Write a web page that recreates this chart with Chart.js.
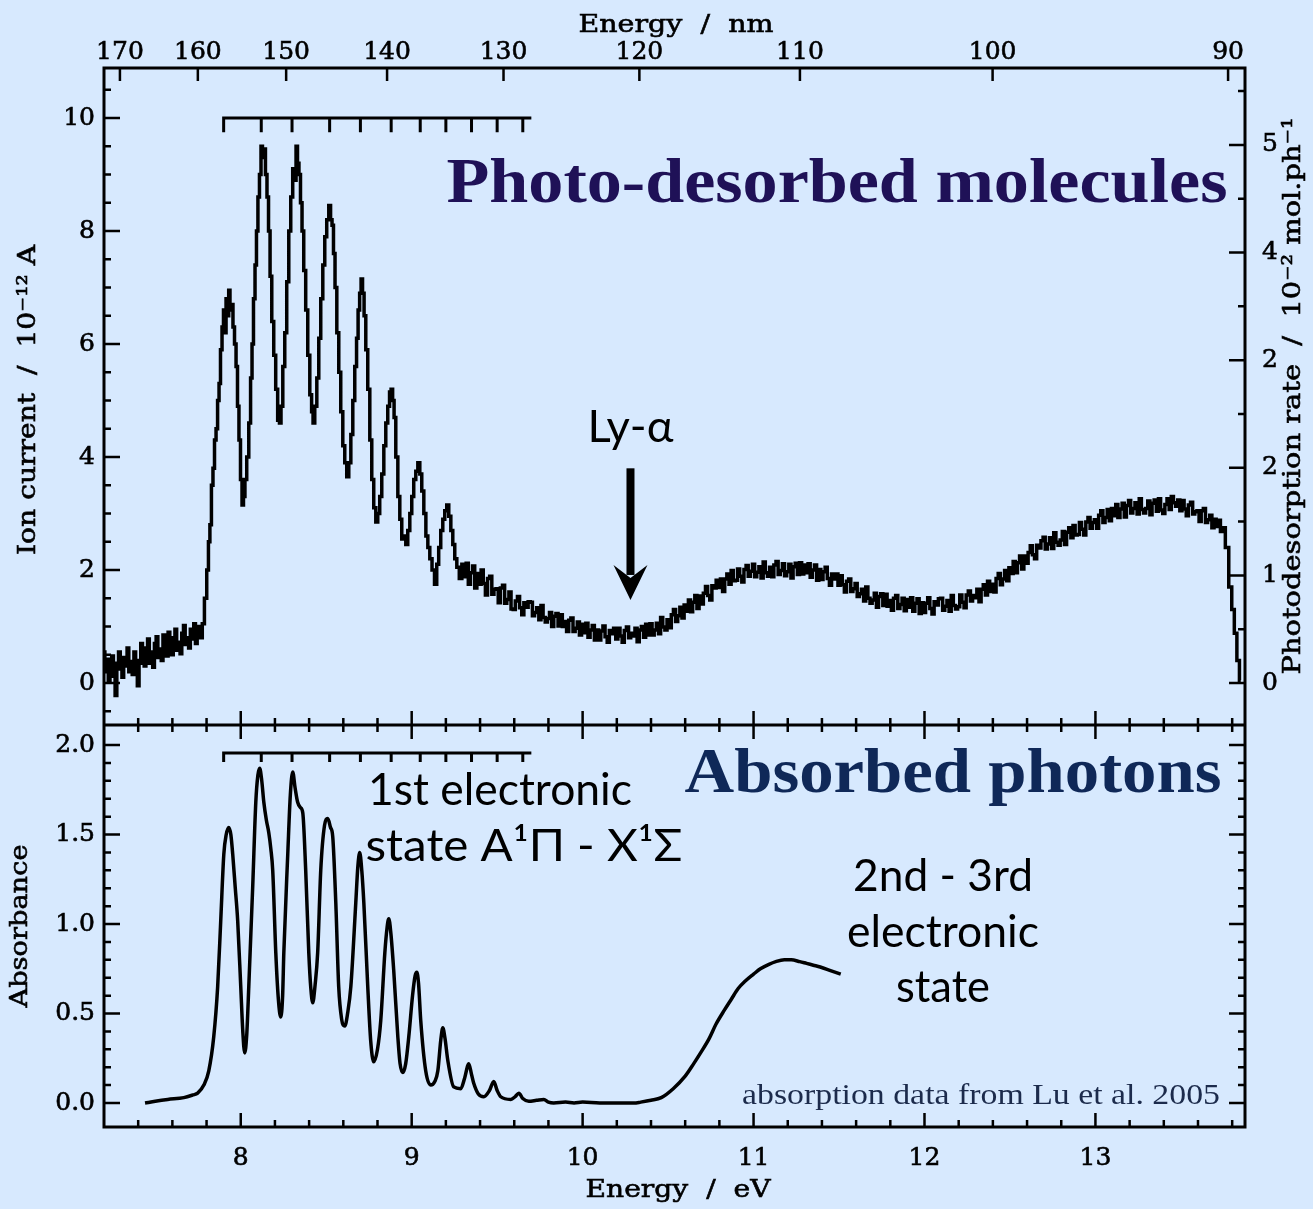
<!DOCTYPE html>
<html>
<head>
<meta charset="utf-8">
<title>CO photodesorption and absorption spectra</title>
<script src="https://cdn.jsdelivr.net/npm/chart.js@4.4.1/dist/chart.umd.min.js"></script>
<style>
  html, body { margin: 0; padding: 0; background: #d7e9fe; }
  #chart { display: block; }
</style>
</head>
<body>
<canvas id="chart" width="1313" height="1209"></canvas>
<script>
// ---- Photo-desorbed molecules: [photon energy (eV), ion current (1e-12 A)] ----
const ionTrace = [
  // below the A-X onset
  [7.20,0.55],[7.21,0.20],[7.22,0.42],[7.23,0.05],[7.24,0.30],[7.25,0.48],[7.26,0.12],[7.27,-0.22],
  [7.28,0.35],[7.29,0.55],[7.30,0.25],[7.31,0.10],[7.32,0.45],[7.33,0.30],[7.34,0.62],[7.35,0.20],
  [7.36,0.38],[7.37,0.15],[7.38,0.55],[7.39,0.40],[7.40,-0.05],[7.41,0.35],[7.42,0.70],[7.43,0.45],
  [7.44,0.30],[7.45,0.62],[7.46,0.78],[7.47,0.35],[7.48,0.55],[7.49,0.28],[7.50,0.70],[7.51,0.82],
  [7.52,0.45],[7.53,0.60],[7.54,0.40],[7.55,0.85],[7.56,0.55],[7.57,0.48],[7.58,0.90],[7.59,0.62],
  [7.60,0.50],[7.61,0.80],[7.62,0.95],[7.63,0.58],[7.64,0.72],[7.65,0.52],[7.66,0.88],[7.67,1.02],
  [7.68,0.68],[7.69,0.80],[7.70,0.62],[7.71,0.95],[7.72,0.78],[7.73,1.05],[7.74,0.70],[7.75,0.88],
  [7.76,1.00],[7.77,0.80],
  // A-X vibrational bands
  [7.780,1.05],[7.795,1.5],[7.807,2.0],[7.815,2.5],[7.824,2.8],[7.833,3.5],[7.842,3.8],[7.851,4.3],
  [7.860,4.5],[7.869,5.0],[7.877,5.3],[7.886,5.9],[7.895,6.3],[7.903,6.6],[7.910,6.2],[7.918,6.8],
  [7.926,6.5],[7.933,6.95],[7.941,6.6],[7.950,6.7],[7.959,6.3],[7.968,6.0],[7.977,5.6],[7.985,4.9],
  [7.994,4.3],[8.003,3.6],[8.012,3.15],[8.020,3.3],[8.029,3.6],[8.041,4.0],[8.053,4.6],[8.062,5.4],
  [8.070,6.0],[8.079,6.8],[8.088,7.4],[8.096,8.0],[8.105,8.6],[8.114,9.0],[8.123,9.5],[8.131,9.3],
  [8.140,9.45],[8.149,9.0],[8.158,8.6],[8.167,8.0],[8.176,7.2],[8.187,6.4],[8.199,5.8],[8.210,5.2],
  [8.222,4.65],[8.231,4.6],[8.240,4.9],[8.252,5.6],[8.263,6.2],[8.275,7.1],[8.287,8.0],[8.298,8.6],
  [8.310,9.1],[8.319,8.9],[8.328,9.5],[8.336,9.2],[8.345,9.0],[8.354,8.5],[8.363,8.0],[8.374,7.3],
  [8.386,6.6],[8.398,5.8],[8.410,5.1],[8.419,4.8],[8.427,4.6],[8.439,4.9],[8.451,5.4],[8.462,6.1],
  [8.474,6.8],[8.486,7.4],[8.497,7.9],[8.509,8.2],[8.521,8.45],[8.530,8.2],[8.538,8.1],[8.547,7.6],
  [8.556,7.0],[8.568,6.2],[8.579,5.5],[8.591,4.8],[8.603,4.2],[8.614,3.9],[8.626,3.65],[8.638,3.9],
  [8.650,4.4],[8.661,5.0],[8.673,5.6],[8.682,6.1],[8.691,6.6],[8.700,6.9],[8.708,7.15],[8.717,6.9],
  [8.726,6.5],[8.737,5.9],[8.749,5.2],[8.761,4.3],[8.772,3.6],[8.784,3.1],[8.796,2.85],[8.807,3.0],
  [8.819,3.3],[8.831,3.7],[8.843,4.2],[8.854,4.6],[8.866,4.9],[8.875,5.15],[8.884,5.2],[8.893,5.0],
  [8.901,4.7],[8.913,4.0],[8.925,3.3],[8.936,2.9],[8.948,2.55],[8.960,2.6],[8.971,2.45],[8.983,2.7],
  [8.995,3.0],[9.006,3.3],[9.018,3.6],[9.030,3.75],[9.042,3.9],[9.053,3.7],[9.065,3.4],[9.077,3.0],
  [9.089,2.6],[9.100,2.4],[9.112,2.2],[9.126,2.0],[9.141,1.75],[9.152,2.1],[9.164,2.4],[9.176,2.7],
  [9.188,2.9],[9.199,3.05],[9.211,3.15],[9.223,2.95],[9.235,2.7],[9.246,2.45],[9.258,2.2],[9.270,2.05],
  [9.287,1.85],
  // Ly-alpha region and the higher electronic states
  [9.3000,2.10],[9.3125,1.88],[9.3250,2.12],[9.3375,1.75],[9.3500,1.95],[9.3625,2.07],[9.3750,1.68],[9.3875,1.94],
  [9.4000,1.75],[9.4125,2.00],[9.4250,1.76],[9.4375,1.56],[9.4500,1.85],[9.4625,1.89],[9.4750,1.57],[9.4875,1.66],
  [9.5000,1.67],[9.5125,1.42],[9.5250,1.68],[9.5375,1.73],[9.5500,1.41],[9.5625,1.48],[9.5750,1.61],[9.5875,1.31],
  [9.6000,1.30],[9.6125,1.45],[9.6250,1.53],[9.6375,1.33],[9.6500,1.21],[9.6625,1.42],[9.6750,1.34],[9.6875,1.44],
  [9.7000,1.43],[9.7125,1.19],[9.7250,1.25],[9.7375,1.33],[9.7500,1.12],[9.7625,1.37],[9.7750,1.16],[9.7875,1.08],
  [9.8000,1.14],[9.8125,1.25],[9.8250,1.00],[9.8375,1.18],[9.8500,1.23],[9.8625,1.01],[9.8750,1.21],[9.8875,1.00],
  [9.9000,1.09],[9.9125,0.91],[9.9250,1.11],[9.9375,1.15],[9.9500,0.91],[9.9625,0.97],[9.9750,1.08],[9.9875,0.85],
  [10.0000,1.04],[10.0125,0.89],[10.0250,1.06],[10.0375,0.81],[10.0500,0.94],[10.0625,1.02],[10.0750,0.76],[10.0875,0.94],
  [10.1000,0.76],[10.1125,0.92],[10.1250,1.01],[10.1375,0.82],[10.1500,0.72],[10.1625,0.93],[10.1750,0.87],[10.1875,0.97],
  [10.2000,0.78],[10.2125,0.97],[10.2250,0.83],[10.2375,0.72],[10.2500,0.93],[10.2625,0.99],[10.2750,0.80],[10.2875,0.88],
  [10.3000,0.83],[10.3125,0.97],[10.3250,0.73],[10.3375,0.94],[10.3500,1.00],[10.3625,0.81],[10.3750,1.04],[10.3875,0.85],
  [10.4000,1.05],[10.4125,0.85],[10.4250,0.94],[10.4375,1.06],[10.4500,0.87],[10.4625,1.16],[10.4750,0.99],[10.4875,0.94],
  [10.5000,1.12],[10.5125,0.98],[10.5250,1.21],[10.5375,1.30],[10.5500,1.09],[10.5625,1.19],[10.5750,1.34],[10.5875,1.15],
  [10.6000,1.38],[10.6125,1.27],[10.6250,1.47],[10.6375,1.26],[10.6500,1.43],[10.6625,1.55],[10.6750,1.32],[10.6875,1.54],
  [10.7000,1.40],[10.7125,1.59],[10.7250,1.71],[10.7375,1.55],[10.7500,1.47],[10.7625,1.72],[10.7750,1.68],[10.7875,1.82],
  [10.8000,1.69],[10.8125,1.84],[10.8250,1.62],[10.8375,1.84],[10.8500,1.93],[10.8625,1.75],[10.8750,1.99],[10.8875,1.81],
  [10.9000,1.82],[10.9125,2.02],[10.9250,1.89],[10.9375,1.79],[10.9500,2.01],[10.9625,2.08],[10.9750,1.89],[10.9875,1.98],
  [11.0000,2.10],[11.0125,1.88],[11.0250,1.96],[11.0375,2.06],[11.0500,1.86],[11.0625,2.14],[11.0750,1.95],[11.0875,1.89],
  [11.1000,2.05],[11.1125,1.88],[11.1250,2.09],[11.1375,2.15],[11.1500,1.92],[11.1625,1.99],[11.1750,2.11],[11.1875,1.90],
  [11.2000,1.97],[11.2125,2.10],[11.2250,1.86],[11.2375,2.06],[11.2500,2.12],[11.2625,1.92],[11.2750,2.13],[11.2875,1.93],
  [11.3000,2.09],[11.3125,1.95],[11.3250,2.11],[11.3375,1.87],[11.3500,2.00],[11.3625,2.09],[11.3750,1.82],[11.3875,2.01],
  [11.4000,1.83],[11.4125,1.97],[11.4250,2.05],[11.4375,1.85],[11.4500,1.73],[11.4625,1.93],[11.4750,1.84],[11.4875,1.93],
  [11.5000,1.73],[11.5125,1.90],[11.5250,1.74],[11.5375,1.61],[11.5500,1.80],[11.5625,1.84],[11.5750,1.62],[11.5875,1.67],
  [11.6000,1.76],[11.6125,1.53],[11.6250,1.58],[11.6375,1.66],[11.6500,1.45],[11.6625,1.70],[11.6750,1.50],[11.6875,1.41],
  [11.7000,1.47],[11.7125,1.59],[11.7250,1.34],[11.7375,1.53],[11.7500,1.58],[11.7625,1.37],[11.7750,1.57],[11.7875,1.36],
  [11.8000,1.46],[11.8125,1.29],[11.8250,1.50],[11.8375,1.55],[11.8500,1.32],[11.8625,1.39],[11.8750,1.50],[11.8875,1.28],
  [11.9000,1.48],[11.9125,1.34],[11.9250,1.51],[11.9375,1.27],[11.9500,1.41],[11.9625,1.49],[11.9750,1.23],[11.9875,1.42],
  [12.0000,1.25],[12.0125,1.41],[12.0250,1.51],[12.0375,1.32],[12.0500,1.22],[12.0625,1.44],[12.0750,1.38],[12.0875,1.49],
  [12.1000,1.50],[12.1125,1.29],[12.1250,1.36],[12.1375,1.46],[12.1500,1.27],[12.1625,1.55],[12.1750,1.37],[12.1875,1.31],
  [12.2000,1.35],[12.2125,1.56],[12.2250,1.43],[12.2375,1.33],[12.2500,1.56],[12.2625,1.63],[12.2750,1.45],[12.2875,1.55],
  [12.3000,1.51],[12.3125,1.66],[12.3250,1.44],[12.3375,1.66],[12.3500,1.74],[12.3625,1.56],[12.3750,1.80],[12.3875,1.62],
  [12.4000,1.75],[12.4125,1.61],[12.4250,1.85],[12.4375,1.94],[12.4500,1.74],[12.4625,1.84],[12.4750,1.99],[12.4875,1.81],
  [12.5000,2.04],[12.5125,1.94],[12.5250,2.15],[12.5375,1.95],[12.5500,2.13],[12.5625,2.25],[12.5750,2.02],[12.5875,2.25],
  [12.6000,2.12],[12.6125,2.31],[12.6250,2.43],[12.6375,2.27],[12.6500,2.20],[12.6625,2.44],[12.6750,2.39],[12.6875,2.52],
  [12.7000,2.58],[12.7125,2.37],[12.7250,2.46],[12.7375,2.57],[12.7500,2.38],[12.7625,2.66],[12.7750,2.49],[12.7875,2.44],
  [12.8000,2.53],[12.8125,2.68],[12.8250,2.45],[12.8375,2.67],[12.8500,2.75],[12.8625,2.57],[12.8750,2.79],[12.8875,2.62],
  [12.9000,2.63],[12.9125,2.84],[12.9250,2.72],[12.9375,2.62],[12.9500,2.85],[12.9625,2.93],[12.9750,2.74],[12.9875,2.84],
  [13.0000,2.89],[13.0125,2.74],[13.0250,2.97],[13.0375,3.05],[13.0500,2.84],[13.0625,2.93],[13.0750,3.07],[13.0875,2.87],
  [13.1000,3.09],[13.1125,2.96],[13.1250,3.16],[13.1375,2.93],[13.1500,3.08],[13.1625,3.18],[13.1750,2.94],[13.1875,3.14],
  [13.2000,3.23],[13.2125,3.01],[13.2250,3.09],[13.2375,3.19],[13.2500,2.99],[13.2625,3.26],[13.2750,3.07],[13.2875,3.01],
  [13.3000,3.09],[13.3125,3.22],[13.3250,2.98],[13.3375,3.18],[13.3500,3.24],[13.3625,3.04],[13.3750,3.26],[13.3875,3.06],
  [13.4000,3.00],[13.4125,3.16],[13.4250,3.26],[13.4375,3.07],[13.4500,3.30],[13.4625,3.19],[13.4750,3.13],[13.4875,3.24],
  [13.5000,3.05],[13.5125,3.23],[13.5250,3.08],[13.5375,2.96],[13.5500,3.15],[13.5625,3.20],[13.5750,2.99],[13.5875,3.03],
  [13.6000,3.05],[13.6125,2.86],[13.6250,3.05],[13.6375,3.09],[13.6500,2.84],[13.6625,2.89],[13.6750,2.97],[13.6875,2.75],
  [13.7000,2.90],[13.7125,2.77],[13.7250,2.88],[13.7375,2.68],[13.7500,2.75],
  [13.770,2.40],[13.790,1.70],[13.805,1.30],[13.820,0.88],[13.835,0.40],[13.850,0.05]
];

// ---- Absorbed photons: [photon energy (eV), absorbance] ----
const absorbanceTrace = [
  [7.44,0.0],[7.50,0.01],[7.573,0.02],[7.667,0.03],[7.72,0.045],[7.748,0.055],[7.784,0.10],[7.813,0.18],
  [7.842,0.37],[7.865,0.65],[7.883,1.02],[7.901,1.39],[7.915,1.50],[7.930,1.54],[7.942,1.50],[7.953,1.39],
  [7.968,1.20],[7.982,1.02],[8.000,0.65],[8.012,0.40],[8.023,0.28],[8.035,0.38],[8.047,0.65],[8.070,1.21],
  [8.088,1.68],[8.100,1.83],[8.111,1.87],[8.123,1.80],[8.135,1.68],[8.150,1.58],[8.164,1.51],[8.176,1.42],
  [8.187,1.30],[8.205,0.84],[8.220,0.58],[8.234,0.48],[8.245,0.60],[8.252,0.84],[8.275,1.39],[8.290,1.72],
  [8.304,1.85],[8.318,1.76],[8.333,1.68],[8.350,1.65],[8.363,1.62],[8.380,1.30],[8.398,0.84],[8.410,0.64],
  [8.421,0.56],[8.435,0.66],[8.450,0.84],[8.468,1.30],[8.490,1.55],[8.509,1.59],[8.525,1.54],[8.538,1.49],
  [8.556,1.12],[8.573,0.65],[8.590,0.47],[8.609,0.43],[8.625,0.50],[8.644,0.65],[8.673,1.12],[8.685,1.32],
  [8.696,1.40],[8.708,1.30],[8.720,1.12],[8.743,0.65],[8.760,0.35],[8.778,0.23],[8.800,0.30],[8.819,0.46],
  [8.843,0.84],[8.856,0.98],[8.866,1.03],[8.878,0.95],[8.895,0.74],[8.919,0.37],[8.932,0.22],[8.948,0.17],
  [8.965,0.22],[8.983,0.37],[9.005,0.60],[9.020,0.71],[9.030,0.73],[9.040,0.67],[9.053,0.46],[9.082,0.18],
  [9.112,0.10],[9.135,0.12],[9.153,0.18],[9.170,0.35],[9.182,0.42],[9.195,0.36],[9.211,0.24],[9.246,0.09],
  [9.287,0.08],[9.310,0.14],[9.334,0.22],[9.350,0.16],[9.363,0.11],[9.390,0.05],[9.422,0.035],[9.455,0.07],
  [9.480,0.12],[9.500,0.07],[9.521,0.035],[9.580,0.02],[9.605,0.035],[9.627,0.055],[9.650,0.025],[9.685,0.01],
  [9.730,0.015],[9.773,0.02],[9.800,0.005],[9.831,0.0],[9.900,0.005],[9.950,0.0],[10.000,0.005],[10.100,0.0],
  [10.200,0.0],[10.300,0.0],[10.340,0.005],[10.400,0.015],[10.460,0.03],[10.530,0.08],[10.600,0.15],[10.650,0.22],
  [10.690,0.28],[10.740,0.36],[10.780,0.44],[10.830,0.52],[10.870,0.58],[10.910,0.64],[10.950,0.68],[11.000,0.72],
  [11.040,0.75],[11.090,0.775],[11.130,0.79],[11.180,0.80],[11.220,0.80],[11.270,0.79],[11.310,0.78],[11.350,0.77],
  [11.390,0.76],[11.450,0.74],[11.510,0.72]
];

// ---- axes ----
const energyRange = [7.2, 13.875];          // eV, shared horizontal axis
const ionPanelRange = [-0.743, 10.885];     // ion current shown in the upper panel
const absPanelRange = [-0.134, 2.112];      // absorbance shown in the lower panel
const upperPanelShare = 657 / 1059;         // fraction of the plot height used by the upper panel
const ratePerIon = 0.525;                   // photodesorption rate (1e-2 mol/ph) per 1e-12 A

const evTicks = [8, 9, 10, 11, 12, 13];
const nmTicks = [170, 160, 150, 140, 130, 120, 110, 100, 90];
const ionTicks = [0, 2, 4, 6, 8, 10];
const absTicks = [0, 0.5, 1.0, 1.5, 2.0];
const rateTicks = [0, 1, 2, 3, 4, 5];
const rateTickLabels = ['0', '1', '2', '2', '4', '5'];

// ---- vibrational progression of the A-X band, Lyman-alpha line ----
const progressionEv = [7.90, 8.12, 8.30, 8.52, 8.70, 8.88, 9.05, 9.20, 9.35, 9.50, 9.65];
const progressionEndEv = 9.70;
const lymanAlphaEv = 10.28;

const HC_EV_NM = 1239.84;
const BG = '#d7e9fe';

// each vertical scale spans the whole plot height; its range is stretched so that
// its own panel sits in the right band of the plot
const ionSpan = (ionPanelRange[1] - ionPanelRange[0]) / upperPanelShare;
const absSpan = (absPanelRange[1] - absPanelRange[0]) / (1 - upperPanelShare);
const ionAxisMin = ionPanelRange[1] - ionSpan;

const SERIF = '"DejaVu Serif", serif';
const TITLE_SERIF = '"Liberation Serif", "DejaVu Serif", serif';
const HUMANIST = 'Lato, "Open Sans", sans-serif';

function drawText(ctx, text, x, y, font, opt = {}) {
  ctx.save();
  ctx.font = font;
  ctx.fillStyle = opt.color || '#000';
  ctx.strokeStyle = opt.color || '#000';
  ctx.textAlign = opt.align || 'center';
  ctx.textBaseline = opt.baseline || 'alphabetic';
  ctx.translate(x, y);
  if (opt.rotate) ctx.rotate(opt.rotate);
  if (opt.width) {
    const w = ctx.measureText(text).width;
    ctx.scale(opt.width / w, 1);
  }
  ctx.fillText(text, 0, 0);
  if (opt.heavy) {
    ctx.lineWidth = opt.heavy;
    ctx.strokeText(text, 0, 0);
  }
  ctx.restore();
}

const frameAndLabels = {
  id: 'frameAndLabels',
  beforeDraw(chart) {
    const { ctx, width, height } = chart;
    ctx.save();
    ctx.fillStyle = BG;
    ctx.fillRect(0, 0, width, height);
    ctx.restore();
  },
  afterDatasetsDraw(chart) {
    const { ctx, chartArea: a, scales } = chart;
    const X = scales.x, YI = scales.yIon, YA = scales.yAbs, YR = scales.yRate;
    const split = YI.getPixelForValue(ionPanelRange[0]);
    const near = (v, step) => Math.abs(v / step - Math.round(v / step)) < 1e-6;

    ctx.save();
    ctx.strokeStyle = '#000';
    ctx.lineCap = 'butt';

    // tick marks, all pointing into the panels
    ctx.lineWidth = 2.5;
    ctx.beginPath();
    for (let v = -0.5; v <= 10.5 + 1e-9; v += 0.5) {
      const y = YI.getPixelForValue(v);
      const len = near(v, 2) ? 16 : 7;
      ctx.moveTo(a.left, y); ctx.lineTo(a.left + len, y);
    }
    for (let r = 0; r <= 5.5 + 1e-9; r += 0.5) {
      const y = YR.getPixelForValue(r);
      const len = near(r, 1) ? 16 : 7;
      ctx.moveTo(a.right, y); ctx.lineTo(a.right - len, y);
    }
    for (let v = 0; v <= 2.0 + 1e-9; v += 0.1) {
      const y = YA.getPixelForValue(v);
      const len = near(v, 0.5) ? 16 : 7;
      ctx.moveTo(a.left, y); ctx.lineTo(a.left + len, y);
      ctx.moveTo(a.right, y); ctx.lineTo(a.right - len, y);
    }
    for (let e = 7.4; e <= 13.8 + 1e-9; e += 0.2) {
      const x = X.getPixelForValue(e);
      const len = near(e, 1) ? 14 : 7;
      ctx.moveTo(x, a.bottom); ctx.lineTo(x, a.bottom - len);
      ctx.moveTo(x, split - len); ctx.lineTo(x, split + len);
    }
    for (const nm of nmTicks) {
      const x = X.getPixelForValue(HC_EV_NM / nm);
      ctx.moveTo(x, a.top); ctx.lineTo(x, a.top + 13);
    }
    ctx.stroke();

    // plot frame and panel divider
    ctx.lineWidth = 3;
    ctx.strokeRect(a.left, a.top, a.right - a.left, a.bottom - a.top);
    ctx.beginPath();
    ctx.moveTo(a.left, split); ctx.lineTo(a.right, split);
    ctx.stroke();

    // vibrational progression combs
    ctx.lineWidth = 3;
    const comb = (scale, base, tip) => {
      const yb = scale.getPixelForValue(base), yt = scale.getPixelForValue(tip);
      ctx.beginPath();
      ctx.moveTo(X.getPixelForValue(progressionEv[0]) - 1.5, yb);
      ctx.lineTo(X.getPixelForValue(progressionEndEv), yb);
      for (const e of progressionEv) {
        const x = X.getPixelForValue(e);
        ctx.moveTo(x, yb); ctx.lineTo(x, yt);
      }
      ctx.stroke();
    };
    comb(YI, 10.0, 9.75);
    comb(YA, 1.955, 1.905);

    // Lyman-alpha arrow
    const ax = X.getPixelForValue(lymanAlphaEv);
    const aTop = YI.getPixelForValue(3.8), aTip = YI.getPixelForValue(1.47);
    ctx.fillStyle = '#000';
    ctx.fillRect(ax - 4, aTop, 8, aTip - aTop - 25);
    ctx.beginPath();
    ctx.moveTo(ax - 17, aTip - 35);
    ctx.lineTo(ax, aTip - 22);
    ctx.lineTo(ax + 17, aTip - 35);
    ctx.lineTo(ax, aTip);
    ctx.closePath();
    ctx.fill();
    ctx.restore();

    // tick labels
    const tickFont = '25px ' + SERIF;
    const tk = { heavy: 0.6 };
    for (const v of ionTicks) {
      drawText(ctx, String(v), a.left - 9, YI.getPixelForValue(v), tickFont, { ...tk, align: 'right', baseline: 'middle' });
    }
    for (const v of absTicks) {
      drawText(ctx, v.toFixed(1), a.left - 9, YA.getPixelForValue(v), tickFont, { ...tk, align: 'right', baseline: 'middle' });
    }
    rateTicks.forEach((r, i) => {
      drawText(ctx, rateTickLabels[i], a.right + 17, YR.getPixelForValue(r), tickFont, { ...tk, align: 'left', baseline: 'middle' });
    });
    for (const e of evTicks) {
      drawText(ctx, String(e), X.getPixelForValue(e), a.bottom + 31, tickFont, { ...tk, baseline: 'middle' });
    }
    for (const nm of nmTicks) {
      drawText(ctx, String(nm), X.getPixelForValue(HC_EV_NM / nm), a.top - 16, tickFont, { ...tk, baseline: 'middle' });
    }

    // axis titles
    const titleFont = '25px ' + SERIF;
    drawText(ctx, 'Energy  /  nm', 676, 25, titleFont, { ...tk, baseline: 'middle', width: 195 });
    drawText(ctx, 'Energy  /  eV', 678, 1190, titleFont, { ...tk, baseline: 'middle', width: 185 });
    drawText(ctx, 'Ion current  /  10⁻¹² A', 28, 400, titleFont, { ...tk, baseline: 'middle', rotate: -Math.PI / 2, width: 310 });
    drawText(ctx, 'Absorbance', 20, 926, titleFont, { ...tk, baseline: 'middle', rotate: -Math.PI / 2, width: 163 });
    drawText(ctx, 'Photodesorption rate  /  10⁻² mol.ph⁻¹', 1293, 396, titleFont, { ...tk, baseline: 'middle', rotate: -Math.PI / 2, width: 557 });

    // panel headings and annotations
    drawText(ctx, 'Photo-desorbed molecules', 837, 202, 'bold 63px ' + TITLE_SERIF, { color: '#1f1157', width: 781 });
    drawText(ctx, 'Absorbed photons', 953, 792, 'bold 63px ' + TITLE_SERIF, { color: '#0f2858', width: 537 });
    drawText(ctx, 'Ly-α', ax, 442, '44px ' + HUMANIST, { width: 86 });
    drawText(ctx, '1st electronic', 500, 805, '44px ' + HUMANIST, { width: 264 });
    drawText(ctx, 'state A¹Π - X¹Σ', 524, 861, '44px ' + HUMANIST, { width: 317 });
    drawText(ctx, '2nd - 3rd', 943, 891, '44px ' + HUMANIST, { width: 180 });
    drawText(ctx, 'electronic', 943, 947, '44px ' + HUMANIST, { width: 192 });
    drawText(ctx, 'state', 943, 1002, '44px ' + HUMANIST, { width: 94 });
    drawText(ctx, 'absorption data from Lu et al. 2005', 981, 1104, '29px ' + TITLE_SERIF, { color: '#1c2b4c', width: 478 });
  }
};

new Chart(document.getElementById('chart'), {
  type: 'line',
  data: {
    datasets: [
      {
        // the ion signal is a binned measurement, drawn as a step trace
        label: 'Ion current',
        data: ionTrace.map(([x, y]) => ({ x, y })),
        yAxisID: 'yIon',
        borderColor: '#000',
        borderWidth: 3.5,
        borderJoinStyle: 'miter',
        pointRadius: 0,
        stepped: 'middle'
      },
      {
        label: 'Absorbance',
        data: absorbanceTrace.map(([x, y]) => ({ x, y })),
        yAxisID: 'yAbs',
        borderColor: '#000',
        borderWidth: 3.5,
        borderJoinStyle: 'round',
        pointRadius: 0,
        cubicInterpolationMode: 'monotone'
      }
    ]
  },
  options: {
    responsive: false,
    animation: false,
    events: [],
    layout: { padding: { left: 104, top: 68, right: 68, bottom: 82 } },
    plugins: { legend: { display: false }, tooltip: { enabled: false } },
    scales: {
      x: { type: 'linear', min: energyRange[0], max: energyRange[1], display: false },
      yIon: { type: 'linear', min: ionAxisMin, max: ionPanelRange[1], display: false },
      yAbs: { type: 'linear', min: absPanelRange[0], max: absPanelRange[0] + absSpan, display: false },
      yRate: { type: 'linear', min: ionAxisMin * ratePerIon, max: ionPanelRange[1] * ratePerIon, display: false }
    }
  },
  plugins: [frameAndLabels]
});
</script>
</body>
</html>
